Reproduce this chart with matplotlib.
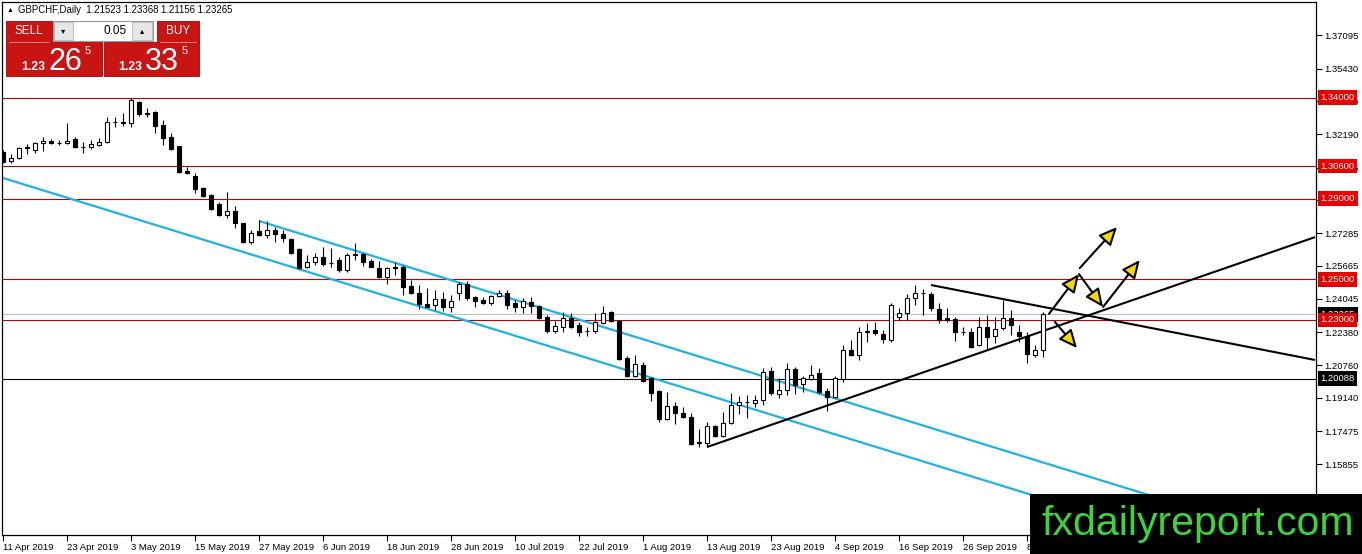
import matplotlib
matplotlib.use("Agg")
import matplotlib.pyplot as plt
from matplotlib.patches import Rectangle
import numpy as np

plt.rcParams['font.family'] = ['Liberation Sans', 'DejaVu Sans']

# ---------------- data (GBPCHF daily) ----------------
opens = [1.3130, 1.3086, 1.3100, 1.3155, 1.3140, 1.3175, 1.3185, 1.3175, 1.3175, 1.3195,
         1.3155, 1.3155, 1.3165, 1.3180, 1.3279, 1.3279, 1.3274, 1.3378, 1.3319, 1.3329,
         1.3264, 1.3204, 1.3160, 1.3036, 1.3011, 1.2952, 1.2917, 1.2873, 1.2818, 1.2838,
         1.2779, 1.2685, 1.2739, 1.2719, 1.2744, 1.2724, 1.2700, 1.2650, 1.2561, 1.2586,
         1.2610, 1.2581, 1.2596, 1.2546, 1.2620, 1.2625, 1.2591, 1.2556, 1.2512, 1.2556,
         1.2561, 1.2467, 1.2432, 1.2378, 1.2373, 1.2403, 1.2363, 1.2432, 1.2477, 1.2413,
         1.2398, 1.2383, 1.2418, 1.2432, 1.2383, 1.2363, 1.2388, 1.2368, 1.2314, 1.2244,
         1.2264, 1.2309, 1.2274, 1.2244, 1.2244, 1.2284, 1.2338, 1.2294, 1.2111, 1.2022,
         1.2076, 1.2012, 1.1947, 1.1809, 1.1873, 1.1838, 1.1819, 1.1690, 1.1690, 1.1774,
         1.1725, 1.1789, 1.1878, 1.1893, 1.1888, 1.1903, 1.2046, 1.1932, 1.1952, 1.2056,
         1.1982, 1.2007, 1.2036, 1.1947, 1.1917, 1.2007, 1.2150, 1.2126, 1.2239, 1.2249,
         1.2229, 1.2200, 1.2314, 1.2333, 1.2408, 1.2432, 1.2427, 1.2353, 1.2309, 1.2304,
         1.2239, 1.2239, 1.2175, 1.2264, 1.2219, 1.2259, 1.2309, 1.2239, 1.2219, 1.2126,
         1.21523]
highs = [1.3140, 1.3120, 1.3155, 1.3170, 1.3180, 1.3204, 1.3195, 1.3190, 1.3274, 1.3204,
         1.3180, 1.3190, 1.3200, 1.3303, 1.3303, 1.3323, 1.3398, 1.3383, 1.3348, 1.3333,
         1.3289, 1.3224, 1.3162, 1.3056, 1.3026, 1.2957, 1.2922, 1.2883, 1.2932, 1.2863,
         1.2781, 1.2744, 1.2794, 1.2789, 1.2759, 1.2744, 1.2705, 1.2655, 1.2620, 1.2630,
         1.2660, 1.2655, 1.2610, 1.2630, 1.2680, 1.2630, 1.2601, 1.2591, 1.2561, 1.2586,
         1.2571, 1.2497, 1.2472, 1.2457, 1.2447, 1.2437, 1.2422, 1.2487, 1.2492, 1.2418,
         1.2413, 1.2422, 1.2447, 1.2447, 1.2398, 1.2408, 1.2413, 1.2373, 1.2323, 1.2294,
         1.2338, 1.2333, 1.2289, 1.2264, 1.2333, 1.2368, 1.2343, 1.2299, 1.2121, 1.2126,
         1.2091, 1.2017, 1.1952, 1.1942, 1.1893, 1.1868, 1.1838, 1.1759, 1.1794, 1.1779,
         1.1843, 1.1937, 1.1922, 1.1927, 1.1927, 1.2061, 1.2066, 1.2012, 1.2086, 1.2066,
         1.2022, 1.2076, 1.2061, 1.1962, 1.2022, 1.2175, 1.2200, 1.2264, 1.2284, 1.2289,
         1.2249, 1.2383, 1.2358, 1.2427, 1.2472, 1.2452, 1.2437, 1.2383, 1.2358, 1.2314,
         1.2264, 1.2259, 1.2314, 1.2323, 1.2314, 1.2398, 1.2348, 1.2274, 1.2239, 1.2175,
         1.23368]
lows = [1.3076, 1.3076, 1.3095, 1.3120, 1.3125, 1.3135, 1.3170, 1.3165, 1.3172, 1.3152,
        1.3125, 1.3145, 1.3160, 1.3175, 1.3254, 1.3259, 1.3254, 1.3309, 1.3304, 1.3224,
        1.3165, 1.3140, 1.3026, 1.3021, 1.2927, 1.2908, 1.2843, 1.2814, 1.2804, 1.2754,
        1.2680, 1.2675, 1.2717, 1.2705, 1.2685, 1.2685, 1.2625, 1.2551, 1.2556, 1.2571,
        1.2566, 1.2561, 1.2536, 1.2536, 1.2596, 1.2566, 1.2559, 1.2507, 1.2477, 1.2522,
        1.2422, 1.2430, 1.2353, 1.2361, 1.2348, 1.2343, 1.2338, 1.2398, 1.2398, 1.2363,
        1.2378, 1.2373, 1.2413, 1.2353, 1.2338, 1.2333, 1.2333, 1.2304, 1.2234, 1.2234,
        1.2239, 1.2259, 1.2219, 1.2219, 1.2234, 1.2279, 1.2289, 1.2101, 1.2017, 1.2017,
        1.1992, 1.1898, 1.1794, 1.1804, 1.1784, 1.1814, 1.1680, 1.1670, 1.1670, 1.1720,
        1.1720, 1.1784, 1.1833, 1.1814, 1.1868, 1.1878, 1.1927, 1.1913, 1.1927, 1.1932,
        1.1942, 1.2002, 1.1932, 1.1848, 1.1913, 1.1992, 1.2120, 1.2101, 1.2190, 1.2224,
        1.2185, 1.2190, 1.2299, 1.2299, 1.2373, 1.2323, 1.2343, 1.2284, 1.2289, 1.2195,
        1.2224, 1.2160, 1.2170, 1.2150, 1.2185, 1.2249, 1.2224, 1.2190, 1.2086, 1.2116,
        1.21156]
closes = [1.3081, 1.3101, 1.3150, 1.3150, 1.3175, 1.3185, 1.3175, 1.3175, 1.3185, 1.3155,
          1.3157, 1.3170, 1.3180, 1.3279, 1.3281, 1.3274, 1.3388, 1.3319, 1.3324, 1.3259,
          1.3200, 1.3145, 1.3031, 1.3026, 1.2947, 1.2912, 1.2848, 1.2818, 1.2838, 1.2779,
          1.2685, 1.2729, 1.2719, 1.2744, 1.2724, 1.2705, 1.2630, 1.2556, 1.2586, 1.2610,
          1.2576, 1.2580, 1.2546, 1.2620, 1.2625, 1.2586, 1.2561, 1.2512, 1.2556, 1.2561,
          1.2462, 1.2432, 1.2378, 1.2363, 1.2403, 1.2363, 1.2393, 1.2477, 1.2408, 1.2393,
          1.2383, 1.2418, 1.2432, 1.2373, 1.2363, 1.2393, 1.2368, 1.2309, 1.2244, 1.2269,
          1.2309, 1.2264, 1.2239, 1.2246, 1.2289, 1.2333, 1.2294, 1.2106, 1.2022, 1.2081,
          1.1997, 1.1937, 1.1809, 1.1873, 1.1838, 1.1819, 1.1685, 1.1695, 1.1774, 1.1725,
          1.1789, 1.1878, 1.1893, 1.1895, 1.1903, 1.2041, 1.1937, 1.1952, 1.2056, 1.1977,
          1.2012, 1.2027, 1.1942, 1.1917, 1.2012, 1.2150, 1.2126, 1.2239, 1.2244, 1.2234,
          1.2205, 1.2373, 1.2333, 1.2408, 1.2432, 1.2434, 1.2358, 1.2299, 1.2299, 1.2239,
          1.2241, 1.2165, 1.2264, 1.2214, 1.2254, 1.2309, 1.2274, 1.2219, 1.2130, 1.2150,
          1.23265]

date_tick_idx = [0, 8, 16, 24, 32, 40, 48, 56, 64, 72, 80, 88, 96, 104, 112, 120, 128]
date_tick_labels = ['11 Apr 2019', '23 Apr 2019', '3 May 2019', '15 May 2019', '27 May 2019',
                    '6 Jun 2019', '18 Jun 2019', '28 Jun 2019', '10 Jul 2019', '22 Jul 2019',
                    '1 Aug 2019', '13 Aug 2019', '23 Aug 2019', '4 Sep 2019', '16 Sep 2019',
                    '26 Sep 2019', '8 Oct 2019']
price_ticks = [1.37095, 1.35430, 1.33810, 1.32190, 1.30525, 1.28905, 1.27285, 1.25665,
               1.24045, 1.22380, 1.20760, 1.19140, 1.17475, 1.15855, 1.14235]

red_levels = [1.34000, 1.30600, 1.29000, 1.25000, 1.23000]
black_level = 1.20088
current_price = 1.23265

cyan_lines = [((32, 1.2789), (164, 1.1179)),
              ((-1, 1.3014), (164, 1.1001))]
black_lines = [((88, 1.1670), (164, 1.2709)),
               ((116, 1.2472), (164, 1.2101))]
arrows = [((130.75, 1.2329), (134.5, 1.2526)),
          ((134.5, 1.2526), (137.5, 1.2363)),
          ((137.5, 1.2363), (142.1, 1.2596)),
          ((134.6, 1.2556), (139.25, 1.2759)),
          ((131.5, 1.2289), (134.25, 1.2160))]

header = 'GBPCHF,Daily  1.21523 1.23368 1.21156 1.23265'

# ---------------- figure ----------------
W, H = 1362, 554
fig = plt.figure(figsize=(W / 100, H / 100), dpi=100)
fig.patch.set_facecolor('white')
ax = fig.add_axes([2 / W, 19 / H, 1314 / W, 533 / H])
ax.set_xlim(-0.125, 164.125)
ax.set_ylim(1.12346, 1.38729)
for s in ax.spines.values():
    s.set_color('black')
    s.set_linewidth(0.9)

x = np.arange(len(opens))
o = np.array(opens); h = np.array(highs); l = np.array(lows); c = np.array(closes)

# horizontal levels
for lv in red_levels:
    ax.axhline(lv, color='#c00000', lw=0.8, zorder=1)
ax.axhline(black_level, color='black', lw=0.8, zorder=1)
ax.axhline(current_price, color='#c0c0c0', lw=0.8, zorder=1)

# channel and trend lines
for (x0, y0), (x1, y1) in cyan_lines:
    ax.plot([x0, x1], [y0, y1], color='#1fb2e6', lw=1.6, zorder=2, solid_capstyle='butt')
for (x0, y0), (x1, y1) in black_lines:
    ax.plot([x0, x1], [y0, y1], color='black', lw=1.5, zorder=2, solid_capstyle='butt')

# candles
ax.vlines(x, l, h, color='black', lw=0.8, zorder=3)
bull = c >= o
bottoms = np.minimum(o, c)
heights = np.abs(c - o)
ax.bar(x, heights, width=0.62, bottom=bottoms,
       color=np.where(bull, 'white', 'black'), edgecolor='black', linewidth=0.8, zorder=4)

# arrows
for tail, tip in arrows:
    ax.annotate('', xy=tip, xytext=tail,
                arrowprops=dict(arrowstyle='-|>,head_length=1.1,head_width=0.5',
                                fc='#f7d800', ec='black', lw=1.5,
                                shrinkA=0, shrinkB=0), zorder=6)

# axes ticks
ax.yaxis.tick_right()
ax.set_yticks(price_ticks)
ax.set_yticklabels(['%.5f' % v for v in price_ticks])
ax.tick_params(axis='y', direction='out', length=4, width=0.8, labelsize=6.8, pad=2,
               colors='black')
ax.set_xticks(date_tick_idx)
ax.set_xticklabels(date_tick_labels, ha='left')
ax.tick_params(axis='x', direction='out', length=4, width=0.8, labelsize=6.8, pad=1.5)

ytr = ax.get_yaxis_transform()
box_kw = dict(boxstyle='square,pad=0.28')
ax.text(1.0035, current_price, '%.5f' % current_price, transform=ytr, color='white',
        fontsize=6.8, ha='left', va='center', clip_on=False, zorder=7,
        bbox=dict(fc='black', ec='none', **box_kw))
for lv in red_levels:
    ax.text(1.0035, lv, '%.5f' % lv, transform=ytr, color='white', fontsize=6.8,
            ha='left', va='center', clip_on=False, zorder=8,
            bbox=dict(fc='#e80000', ec='none', **box_kw))
ax.text(1.0035, black_level, '%.5f' % black_level, transform=ytr, color='white',
        fontsize=6.8, ha='left', va='center', clip_on=False, zorder=8,
        bbox=dict(fc='black', ec='none', **box_kw))

# ---------------- overlay (pixel coordinates) ----------------
ov = fig.add_axes([0, 0, 1, 1], zorder=10)
ov.set_xlim(0, W)
ov.set_ylim(H, 0)
ov.axis('off')
ov.patch.set_visible(False)

ov.text(7, 10, '\u25b2', fontsize=5, ha='left', va='center', color='black')
ov.text(18, 10, header, fontsize=6.9, ha='left', va='center', color='black')

red = '#c91414'
ov.add_patch(Rectangle((6, 21), 46, 21, fc=red, ec='#a80000', lw=0.6))
ov.add_patch(Rectangle((6, 42), 96, 34, fc=red, ec='#a80000', lw=0.6))
ov.add_patch(Rectangle((157, 21), 42, 21, fc=red, ec='#a80000', lw=0.6))
ov.add_patch(Rectangle((104, 42), 95, 34, fc=red, ec='#a80000', lw=0.6))
ov.plot([9, 49], [42, 42], color='#e98080', lw=0.7)
ov.plot([160, 196], [42, 42], color='#e98080', lw=0.7)
ov.text(29, 31.5, 'SELL', color='white', fontsize=8.5, ha='center', va='center')
ov.text(178, 31.5, 'BUY', color='white', fontsize=8.5, ha='center', va='center')

ov.add_patch(Rectangle((53, 21), 100, 20, fc='white', ec='#9a9a9a', lw=0.8))
ov.add_patch(Rectangle((54, 22), 19, 18, fc='#e6e6e6', ec='#b4b4b4', lw=0.6))
ov.add_patch(Rectangle((132, 22), 20, 18, fc='#e6e6e6', ec='#b4b4b4', lw=0.6))
ov.text(63.5, 31, '\u25be', fontsize=6, ha='center', va='center', color='black',
        family=['DejaVu Sans'])
ov.text(142, 30.5, '\u25b4', fontsize=6, ha='center', va='center', color='black',
        family=['DejaVu Sans'])
ov.text(127, 31, '0.05', fontsize=8.5, ha='right', va='center', color='black')

for xs, big in ((21, '26'), (118, '33')):
    ov.text(xs, 70, '1.23', color='white', fontsize=8.8, fontweight='bold',
            ha='left', va='baseline')
    ov.text(xs + 27, 70.5, big, color='white', fontsize=22, ha='left', va='baseline')
    ov.text(xs + 64, 54, '5', color='white', fontsize=8, ha='left', va='baseline')

# watermark
ov.add_patch(Rectangle((1030, 494), W - 1030, H - 494, fc='black', ec='none'))
ov.text(1198, 524, 'fxdailyreport.com', color='#3bd43b', fontsize=29.5,
        ha='center', va='center')

fig.savefig('out.png', dpi=100)
